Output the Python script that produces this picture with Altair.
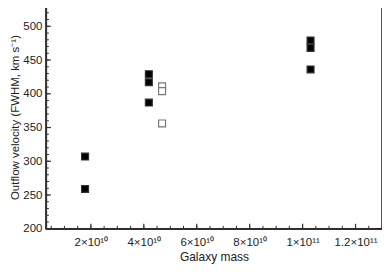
import altair as alt
import pandas as pd

# Data
filled_mass = [1.78e10, 1.78e10, 4.19e10, 4.19e10, 4.19e10, 1.03e11, 1.03e11, 1.03e11]
filled_vel = [307, 259, 429, 417, 387, 479, 468, 436]
open_mass = [4.69e10, 4.69e10, 4.69e10]
open_vel = [411, 404, 356]

x_major = [2e10, 4e10, 6e10, 8e10, 1e11, 1.2e11]
x_labels = ["2×10¹⁰", "4×10¹⁰", "6×10¹⁰", "8×10¹⁰", "1×10¹¹", "1.2×10¹¹"]
x_minor = [5e9 * i for i in range(1, 27)]
y_major = [200, 250, 300, 350, 400, 450, 500]
y_minor = list(range(200, 531, 10))

W, H = 337, 224
xdom = [3e9, 1.3e11]
ydom = [200, 531]

pts = pd.DataFrame({
    "mass": filled_mass + open_mass,
    "vel": filled_vel + open_vel,
    "kind": ["filled"] * len(filled_mass) + ["open"] * len(open_mass),
})

label_expr = " : ".join(
    [f"datum.value == {v} ? '{l}'" for v, l in zip(x_major, x_labels)]
) + " : ''"

xs = alt.Scale(domain=xdom, nice=False, zero=False)
ys = alt.Scale(domain=ydom, nice=False, zero=False)

x_axis = alt.Axis(values=x_major, labelExpr=label_expr, ticks=False,
                  grid=False, domainColor="#333", domainWidth=1.5,
                  labelOverlap=False,
                  labelFont="Liberation Sans", labelFontSize=11.5,
                  labelColor="#222", labelPadding=8,
                  titleFont="Liberation Sans", titleFontSize=12,
                  titleFontWeight="normal", titleColor="#222",
                  titlePadding=3)
y_axis = alt.Axis(values=y_major, ticks=False, grid=False,
                  domainColor="#333", domainWidth=1.5,
                  labelOverlap=False,
                  labelFont="Liberation Sans", labelFontSize=11.5,
                  labelColor="#222", labelPadding=4,
                  titleFont="Liberation Sans", titleFontSize=11.5,
                  titleFontWeight="normal", titleColor="#222",
                  titlePadding=2)
x_title = "Galaxy mass"
y_title = "Outflow velocity (FWHM, km s⁻¹)"

points = alt.Chart(pts).mark_square(size=48, strokeWidth=1.2, opacity=1).encode(
    x=alt.X("mass:Q", scale=xs, title=x_title, axis=x_axis),
    y=alt.Y("vel:Q", scale=ys, title=y_title, axis=y_axis),
    fill=alt.Fill("kind:N", scale=alt.Scale(domain=["filled", "open"], range=["#000000", "#ffffff"]), legend=None),
    stroke=alt.Stroke("kind:N", scale=alt.Scale(domain=["filled", "open"], range=["#333333", "#777777"]), legend=None),
)

xmaj = pd.DataFrame({"v": x_major})
xmin = pd.DataFrame({"v": x_minor})
ymaj = pd.DataFrame({"v": y_major})
ymin = pd.DataFrame({"v": y_minor})

def xenc():
    return alt.X("v:Q", scale=xs, title=x_title, axis=x_axis)

def yenc():
    return alt.Y("v:Q", scale=ys, title=y_title, axis=y_axis)

xt_major = alt.Chart(xmaj).mark_rule(color="#333", strokeWidth=1.2).encode(
    x=xenc(), y=alt.value(H), y2=alt.value(H - 5))
xt_minor = alt.Chart(xmin).mark_rule(color="#333", strokeWidth=1).encode(
    x=xenc(), y=alt.value(H), y2=alt.value(H - 3))
yt_major = alt.Chart(ymaj).mark_rule(color="#333", strokeWidth=1.2).encode(
    y=yenc(), x=alt.value(0), x2=alt.value(5))
yt_minor = alt.Chart(ymin).mark_rule(color="#333", strokeWidth=1).encode(
    y=yenc(), x=alt.value(0), x2=alt.value(3))

chart = alt.layer(points, xt_minor, xt_major, yt_minor, yt_major).properties(
    width=W, height=H,
    background="white",
    autosize=alt.AutoSizeParams(type="none"),
    padding={"left": 38, "top": -3, "right": 0, "bottom": 40},
).configure_view(stroke="#222", strokeWidth=1.5)

chart.save("out.html", embed_options={"renderer": "svg", "actions": False})
